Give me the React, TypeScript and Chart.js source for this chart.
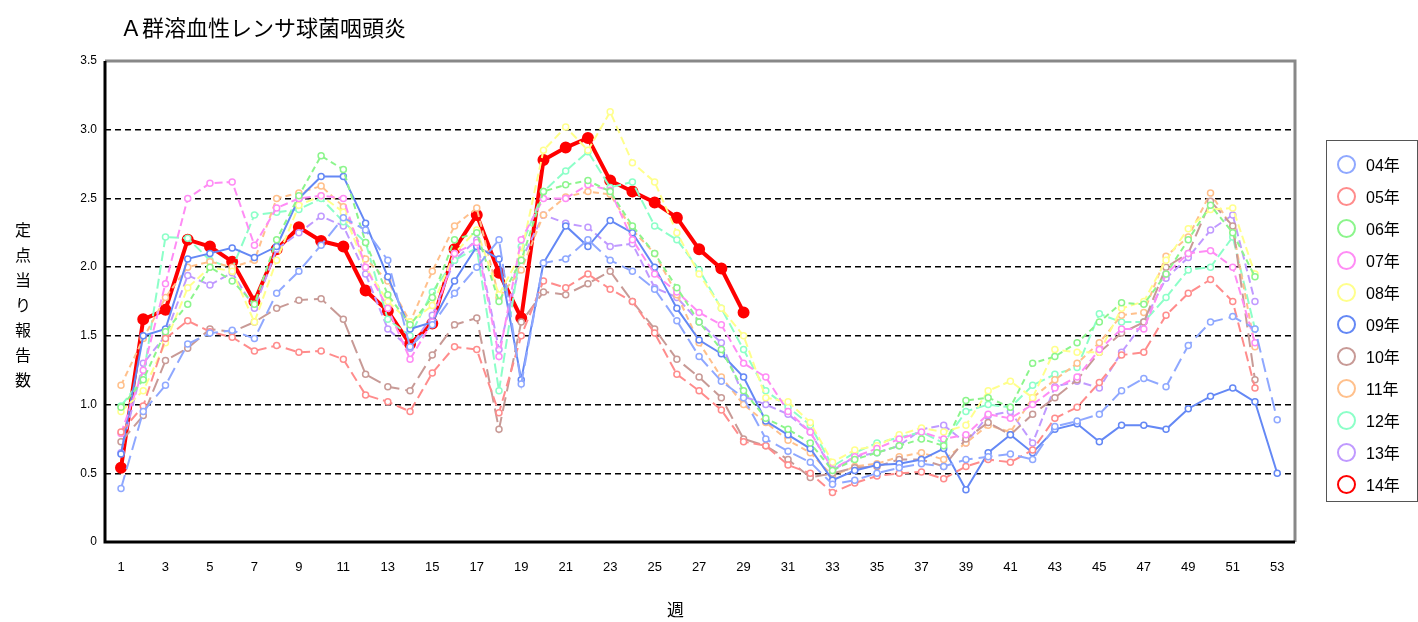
import React, { useRef, useEffect } from 'react';
import { Chart, registerables } from 'chart.js';

Chart.register(...registerables);

const weeks = Array.from({ length: 53 }, (_, i) => i + 1);

const y04 = [0.39,0.95,1.14,1.44,1.52,1.54,1.48,1.81,1.97,2.16,2.36,2.27,2.05,1.42,1.58,1.81,2.0,2.2,1.15,2.03,2.06,2.2,2.05,1.97,1.84,1.61,1.35,1.17,1.05,0.75,0.66,0.58,0.42,0.45,0.5,0.54,0.57,0.55,0.6,0.62,0.64,0.6,0.84,0.88,0.93,1.1,1.19,1.13,1.43,1.6,1.64,1.55,0.89];
const y05 = [0.8,0.99,1.48,1.61,1.53,1.49,1.39,1.43,1.38,1.39,1.33,1.07,1.02,0.95,1.23,1.42,1.4,0.94,1.5,1.9,1.85,1.95,1.84,1.75,1.52,1.22,1.1,0.96,0.73,0.7,0.56,0.5,0.36,0.43,0.48,0.5,0.51,0.46,0.55,0.6,0.58,0.67,0.9,0.98,1.16,1.36,1.38,1.65,1.81,1.91,1.75,1.12];
const y06 = [0.98,1.18,1.53,1.73,2.0,1.9,1.73,2.2,2.52,2.81,2.71,2.18,1.8,1.58,1.78,2.2,2.25,1.75,2.05,2.55,2.6,2.63,2.55,2.3,2.1,1.85,1.6,1.4,1.1,0.9,0.82,0.72,0.52,0.6,0.65,0.7,0.75,0.7,1.03,1.05,0.98,1.3,1.35,1.45,1.6,1.74,1.73,1.95,2.2,2.45,2.25,1.93];
const y07 = [0.79,1.25,1.88,2.5,2.61,2.62,2.16,2.43,2.5,2.52,2.5,2.0,1.7,1.33,1.6,2.1,2.18,1.35,2.2,2.5,2.5,2.6,2.56,2.2,1.95,1.82,1.67,1.58,1.3,1.2,0.95,0.8,0.53,0.62,0.68,0.75,0.8,0.75,0.78,0.93,0.9,1.0,1.12,1.2,1.4,1.55,1.55,1.95,2.1,2.12,2.0,1.45];
const y08 = [0.95,1.1,1.45,1.85,2.0,1.97,1.6,2.05,2.45,2.52,2.4,2.0,1.75,1.6,1.72,2.1,2.27,1.8,2.1,2.85,3.02,2.85,3.13,2.76,2.62,2.25,1.95,1.7,1.5,1.05,1.02,0.87,0.58,0.67,0.7,0.78,0.83,0.8,0.85,1.1,1.17,1.05,1.4,1.38,1.38,1.7,1.75,2.05,2.28,2.42,2.43,1.95];
const y09 = [0.64,1.5,1.55,2.06,2.1,2.14,2.07,2.15,2.5,2.66,2.66,2.32,1.93,1.55,1.6,1.9,2.15,2.06,1.18,2.03,2.3,2.15,2.34,2.25,2.0,1.7,1.47,1.37,1.2,0.88,0.78,0.68,0.45,0.52,0.56,0.57,0.6,0.68,0.38,0.65,0.78,0.65,0.82,0.86,0.73,0.85,0.85,0.82,0.97,1.06,1.12,1.02,0.5];
const y10 = [0.73,0.92,1.32,1.41,1.55,1.53,1.6,1.7,1.76,1.77,1.62,1.22,1.13,1.1,1.36,1.58,1.63,0.82,1.6,1.82,1.8,1.88,1.97,1.75,1.55,1.33,1.2,1.05,0.75,0.7,0.6,0.47,0.5,0.54,0.55,0.6,0.6,0.55,0.75,0.87,0.78,0.93,1.05,1.18,1.38,1.52,1.6,2.0,2.1,2.48,2.3,1.18];
const y11 = [1.14,1.48,1.78,2.0,2.04,2.0,2.05,2.5,2.54,2.59,2.44,2.06,1.9,1.6,1.97,2.3,2.43,1.78,1.98,2.38,2.51,2.55,2.53,2.27,2.1,1.8,1.45,1.2,1.0,0.87,0.74,0.65,0.48,0.55,0.57,0.62,0.65,0.6,0.72,0.85,0.8,1.05,1.18,1.3,1.45,1.65,1.67,2.08,2.22,2.54,2.28,1.42];
const y12 = [0.99,1.2,2.22,2.21,2.05,1.99,2.38,2.4,2.42,2.5,2.33,2.18,1.62,1.5,1.82,2.05,2.14,1.1,2.15,2.55,2.7,2.84,2.58,2.62,2.3,2.2,1.98,1.7,1.4,1.1,0.98,0.85,0.55,0.65,0.72,0.76,0.8,0.72,0.95,1.0,0.98,1.14,1.22,1.27,1.66,1.6,1.6,1.78,1.98,2.0,2.22,1.55];
const y13 = [0.65,1.3,1.5,1.94,1.87,1.96,1.7,2.13,2.25,2.37,2.3,1.95,1.55,1.41,1.65,2.05,2.2,1.4,2.05,2.38,2.32,2.29,2.15,2.17,1.85,1.78,1.6,1.45,1.06,1.0,0.93,0.8,0.52,0.62,0.65,0.7,0.82,0.85,0.72,0.92,0.95,0.72,1.13,1.17,1.12,1.38,1.6,1.92,2.07,2.27,2.38,1.75];
const y14 = [0.54,1.62,1.69,2.2,2.15,2.04,1.75,2.13,2.29,2.19,2.15,1.83,1.68,1.44,1.59,2.13,2.38,1.96,1.63,2.78,2.87,2.94,2.63,2.55,2.47,2.36,2.13,1.99,1.67];

const yTicks = [0, 0.5, 1.0, 1.5, 2.0, 2.5, 3.0, 3.5];
const xTicks = weeks.filter((w) => w % 2 === 1);

const seriesDefs = [
  { label: '04年', data: y04, color: '#8fa8ff', dash: [14, 6] },
  { label: '05年', data: y05, color: '#ff8c8c', dash: [10, 5] },
  { label: '06年', data: y06, color: '#8cf58c', dash: [6, 4] },
  { label: '07年', data: y07, color: '#ff8cf5', dash: [8, 4] },
  { label: '08年', data: y08, color: '#ffff8c', dash: [8, 4] },
  { label: '09年', data: y09, color: '#6488f5', dash: [] },
  { label: '10年', data: y10, color: '#c89a96', dash: [14, 6] },
  { label: '11年', data: y11, color: '#ffc08c', dash: [6, 4] },
  { label: '12年', data: y12, color: '#8cffc8', dash: [10, 4] },
  { label: '13年', data: y13, color: '#c09aff', dash: [8, 4] },
];

const frame = {
  id: 'frame',
  afterDraw(chart: any) {
    const { ctx, chartArea: a } = chart;
    ctx.save();
    ctx.strokeStyle = '#888';
    ctx.lineWidth = 3;
    ctx.beginPath();
    ctx.moveTo(a.left, a.top);
    ctx.lineTo(a.right, a.top);
    ctx.lineTo(a.right, a.bottom);
    ctx.stroke();
    ctx.strokeStyle = '#000';
    ctx.beginPath();
    ctx.moveTo(a.left, a.top);
    ctx.lineTo(a.left, a.bottom);
    ctx.lineTo(a.right, a.bottom);
    ctx.stroke();
    ctx.restore();
  },
};

const App = () => {
  const chartRef = useRef<HTMLCanvasElement>(null);

  useEffect(() => {
    if (!chartRef.current) return;
    const datasets: any[] = seriesDefs.map((s) => ({
      label: s.label,
      data: s.data.map((v, i) => ({ x: weeks[i], y: v })),
      borderColor: s.color,
      borderWidth: 2,
      borderDash: s.dash,
      pointRadius: 3,
      pointBorderWidth: 1.5,
      pointBackgroundColor: '#fff',
      pointBorderColor: s.color,
    }));
    datasets.push({
      label: '14年',
      data: y14.map((v, i) => ({ x: weeks[i], y: v })),
      borderColor: '#ff0000',
      borderWidth: 4,
      pointRadius: 4,
      pointBackgroundColor: '#ff0000',
      pointBorderColor: '#ff0000',
    });
    const font = { family: 'Liberation Sans', size: 13 };
    const chart = new Chart(chartRef.current, {
      type: 'line',
      data: { datasets },
      plugins: [frame],
      options: {
        animation: false,
        responsive: false,
        layout: { padding: { top: 61, right: 123, bottom: 0, left: 0 } },
        plugins: { legend: { display: false }, tooltip: { enabled: false } },
        scales: {
          x: {
            type: 'linear',
            min: 0.28,
            max: 53.8,
            afterFit: (s: any) => { s.height = 80; },
            afterBuildTicks: (s: any) => { s.ticks = xTicks.map((v) => ({ value: v })); },
            grid: { display: false },
            border: { display: false },
            ticks: { color: '#000', font, padding: 10, autoSkip: false, maxRotation: 0 },
          },
          y: {
            min: 0,
            max: 3.5,
            afterFit: (s: any) => { s.width = 105; },
            afterBuildTicks: (s: any) => { s.ticks = yTicks.map((v) => ({ value: v })); },
            grid: { color: '#000', lineWidth: 1.5, drawTicks: false },
            border: { display: false, dash: [6, 4] },
            ticks: {
              color: '#000',
              font: { family: 'Liberation Sans', size: 12 },
              padding: 8,
              callback: (v: any) => (v === 0 ? '0' : Number(v).toFixed(1)),
            },
          },
        },
      } as any,
    });
    return () => chart.destroy();
  }, []);

  const legendItems = [...seriesDefs.map((s) => ({ label: s.label, color: s.color })), { label: '14年', color: '#ff0000' }];

  return (
    <div style={{ position: 'fixed', left: 0, top: 0, width: 1418, height: 622, background: '#fff', fontFamily: 'Liberation Sans, "Noto Sans CJK JP", sans-serif' }}>
      <canvas ref={chartRef} width={1418} height={622} style={{ position: 'absolute', left: 0, top: 0 }} />
      <div style={{ position: 'absolute', left: 120, top: 10, fontSize: 22, color: '#000' }}>Ａ群溶血性レンサ球菌咽頭炎</div>
      <div style={{ position: 'absolute', left: 12, top: 218, width: 22, fontSize: 16, lineHeight: '25px', textAlign: 'center' }}>
        {'定点当り報告数'.split('').map((c, i) => <div key={i}>{c}</div>)}
      </div>
      <div style={{ position: 'absolute', left: 667, top: 596, fontSize: 17 }}>週</div>
      <div style={{ position: 'absolute', left: 1326, top: 140, width: 92, height: 362, border: '1px solid #555', boxSizing: 'border-box', paddingTop: 7 }}>
        {legendItems.map((it) => (
          <div key={it.label} style={{ display: 'flex', alignItems: 'center', height: 32, paddingLeft: 10 }}>
            <span style={{ width: 19, height: 19, borderRadius: '50%', border: `2px solid ${it.color}`, boxSizing: 'border-box', marginRight: 10 }} />
            <span style={{ fontSize: 16 }}>{it.label}</span>
          </div>
        ))}
      </div>
    </div>
  );
};

export default App;
